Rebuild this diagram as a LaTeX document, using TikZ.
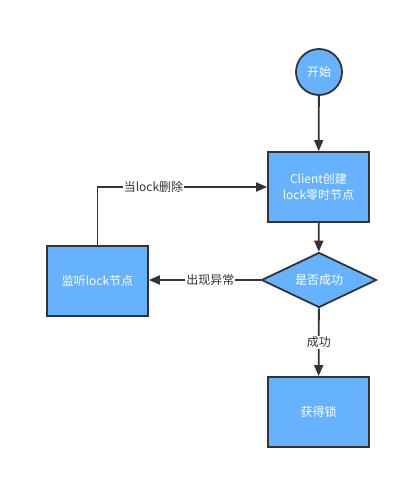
\documentclass[tikz,border=0pt]{standalone}
\usepackage{fontspec}
\setmainfont{Noto Sans CJK SC}
\usetikzlibrary{shapes.geometric,arrows.meta}
\definecolor{boxblue}{HTML}{66B2FF}
\definecolor{linegray}{HTML}{333333}
\tikzset{
  stepbox/.style={draw=linegray, line width=1.8pt, fill=boxblue, text=white,
    minimum width=101pt, minimum height=70pt, inner sep=0pt, align=center,
    font=\fontsize{12}{16}\selectfont},
  startnode/.style={stepbox, circle, minimum size=46pt, minimum width=46pt, minimum height=46pt},
  decision/.style={stepbox, diamond, aspect=2.1, minimum width=115pt, minimum height=55pt},
  flow/.style={draw=linegray, line width=1.8pt, -{Triangle[length=11pt,width=9pt]}},
  edgelabel/.style={fill=white, text=linegray, inner sep=1pt, font=\fontsize{12}{14}\selectfont}
}
\begin{document}
\begin{tikzpicture}[x=1pt,y=1pt]
  \useasboundingbox (0,0) rectangle (408,-480);
  \node [startnode] (start) at (319,-72) {开始};
  \node [stepbox] (create) at (318.5,-187) {Client创建\\lock零时节点};
  \node [decision] (check) at (319,-280) {是否成功};
  \node [stepbox] (watch) at (97.5,-281) {监听lock节点};
  \node [stepbox] (getlock) at (318.5,-412) {获得锁};
  \coordinate (corner) at (watch.north |- create.west);

  \draw [flow] (start) -- (create);
  \draw [flow] (create) -- (check);
  \draw [flow] (check) -- node [edgelabel] {成功} (getlock);
  \draw [flow] (check.west) -- node [edgelabel, pos=0.45] {出现异常} (watch.east |- check.west);
  \draw [flow] (watch.north) -- (corner) -- node [edgelabel, pos=0.33] {当lock删除} (create.west);
\end{tikzpicture}
\end{document}
